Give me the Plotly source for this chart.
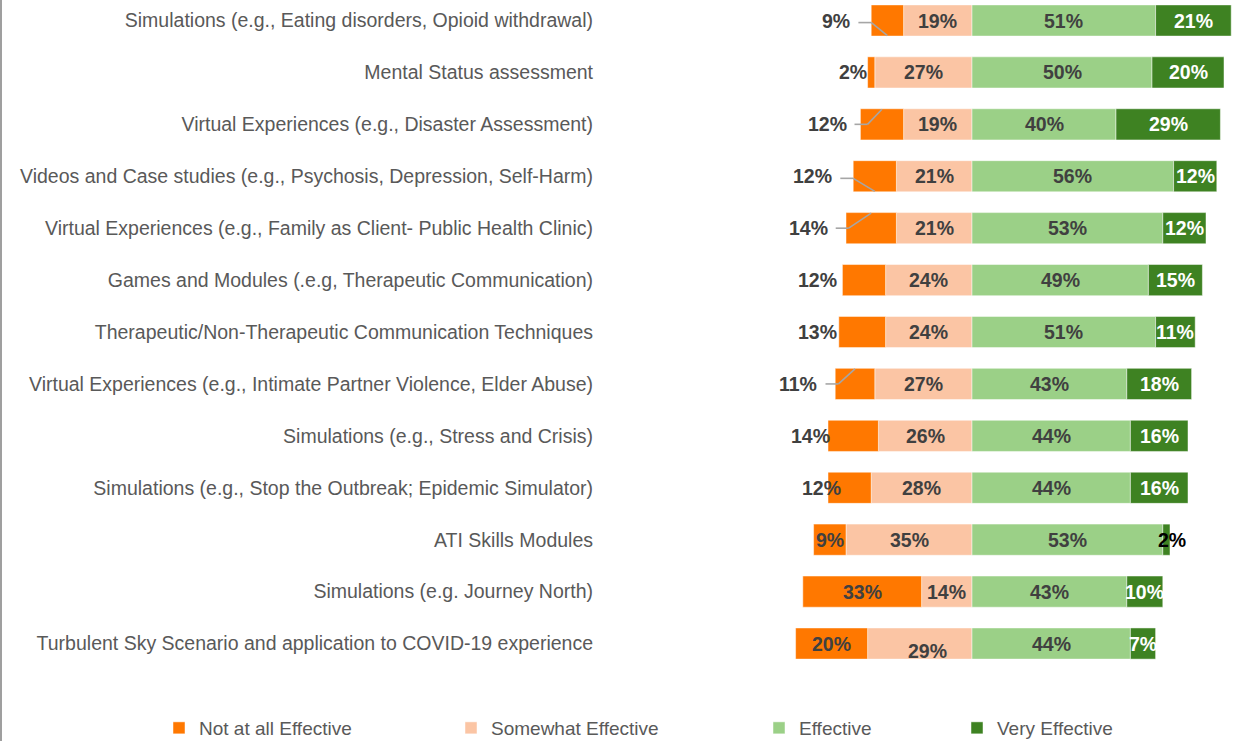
import plotly.graph_objects as go

# ---------------- data ----------------
categories = [
    "Simulations (e.g., Eating disorders, Opioid withdrawal)",
    "Mental Status assessment",
    "Virtual Experiences (e.g., Disaster Assessment)",
    "Videos and Case studies (e.g., Psychosis, Depression, Self-Harm)",
    "Virtual Experiences (e.g., Family as Client- Public Health Clinic)",
    "Games and Modules (.e.g, Therapeutic Communication)",
    "Therapeutic/Non-Therapeutic Communication Techniques",
    "Virtual Experiences (e.g., Intimate Partner Violence, Elder Abuse)",
    "Simulations (e.g., Stress and Crisis)",
    "Simulations (e.g., Stop the Outbreak; Epidemic Simulator)",
    "ATI Skills Modules",
    "Simulations (e.g. Journey North)",
    "Turbulent Sky Scenario and application to COVID-19 experience",
]
not_at_all = [9, 2, 12, 12, 14, 12, 13, 11, 14, 12, 9, 33, 20]
somewhat = [19, 27, 19, 21, 21, 24, 24, 27, 26, 28, 35, 14, 29]
effective = [51, 50, 40, 56, 53, 49, 51, 43, 44, 44, 53, 43, 44]
very = [21, 20, 29, 12, 12, 15, 11, 18, 16, 16, 2, 10, 7]

series_names = ["Not at all Effective", "Somewhat Effective", "Effective", "Very Effective"]

# ---------------- style / layout ----------------
colors = ["#FF7800", "#FBC5A4", "#9BD087", "#3E8222"]
text_colors = ["#404040", "#404040", "#404040", "#FFFFFF"]
FONT = "Liberation Sans, Arial, sans-serif"

W, H = 1237, 741
M_L, M_R, M_T, M_B = 600, 4, 0, 61
plot_w = W - M_L - M_R
plot_h = H - M_T - M_B
ZERO_PX = 972          # pixel column of the zero line
PX_PER = 3.6           # pixels per percentage point
x_min = -(ZERO_PX - M_L) / PX_PER
x_max = x_min + plot_w / PX_PER
ROW0_PX, ROW_STEP = 20.5, 51.92
y_top = -ROW0_PX / ROW_STEP
y_bot = (plot_h - ROW0_PX) / ROW_STEP

# label nudges (pixels) for crowded segments: (row, series) -> (dx, dy)
label_shift = {
    (0, 0): (-51, 0), (1, 0): (-18, 0), (2, 0): (-55, 0), (3, 0): (-62, 0),
    (4, 0): (-63, 0), (5, 0): (-47, 0), (6, 0): (-45, 0), (7, 0): (-57, 0),
    (8, 0): (-43, 0), (9, 0): (-28, 0), (10, 3): (6, 0), (12, 1): (8, 7),
}
label_color_override = {(10, 3): "#000000"}
# leader lines: row -> direction (+1 to lower bar edge, -1 to upper edge)
leaders = {0: 1, 2: -1, 3: 1, 4: -1, 7: -1}

fig = go.Figure()
legend_ids = ["legend", "legend2", "legend3", "legend4"]
signed = [
    (1, [-v for v in somewhat]),
    (0, [-v for v in not_at_all]),
    (2, effective),
    (3, very),
]
for k, vals in signed:
    fig.add_trace(go.Bar(
        y=categories, x=vals, orientation="h", name=series_names[k],
        marker=dict(color=colors[k], line=dict(color="rgba(255,255,255,0.6)", width=0.8)),
        legend=legend_ids[k], hoverinfo="name+x",
    ))

annotations = []
shapes = []
for i, cat in enumerate(categories):
    n, s, e, v = not_at_all[i], somewhat[i], effective[i], very[i]
    centers = [-s - n / 2, -s / 2, e / 2, e + v / 2]
    vals = [n, s, e, v]
    for k in range(4):
        dx, dy = label_shift.get((i, k), (0, 0))
        annotations.append(dict(
            x=centers[k], y=cat, xref="x", yref="y", text=f"{vals[k]}%",
            showarrow=False, xshift=dx, yshift=-dy,
            font=dict(family=FONT, size=19.5, color=label_color_override.get((i, k), text_colors[k]),
                      weight="bold"),
        ))
    if i in leaders:
        d = leaders[i]
        dx, _ = label_shift[(i, 0)]
        lab = centers[0] + dx / PX_PER
        hw = (14 if not_at_all[i] < 10 else 19.5)
        start = lab + (hw + 8) / PX_PER
        elbow = start + 13 / PX_PER
        end = centers[0]
        ymid = i + (0.04 if d > 0 else 0)
        line = dict(color="#A6A6A6", width=1.6)
        shapes.append(dict(type="line", xref="x", yref="y", x0=start, x1=elbow, y0=ymid, y1=ymid, line=line))
        shapes.append(dict(type="line", xref="x", yref="y", x0=elbow, x1=end, y0=ymid, y1=i + 0.29 * d, line=line))

# left border line of the chart frame
shapes.append(dict(type="line", xref="paper", yref="paper",
                   x0=(-M_L + 1) / plot_w, x1=(-M_L + 1) / plot_w,
                   y0=-M_B / plot_h, y1=1, line=dict(color="#7F7F7F", width=1.5)))

legend_px = [159, 451, 759, 957]
legend_common = dict(orientation="h", yanchor="middle", y=-48 / plot_h, xanchor="left",
                     font=dict(family=FONT, size=19, color="#595959"),
                     bgcolor="rgba(0,0,0,0)", itemwidth=30)
layout_legends = {}
for j, lid in enumerate(legend_ids):
    layout_legends[lid] = dict(legend_common, x=(legend_px[j] - M_L) / plot_w)

fig.update_layout(
    width=W, height=H,
    margin=dict(l=M_L, r=M_R, t=M_T, b=M_B, pad=0, autoexpand=False),
    barmode="relative", bargap=0.4,
    plot_bgcolor="white", paper_bgcolor="white",
    xaxis=dict(range=[x_min, x_max], visible=False, fixedrange=True),
    yaxis=dict(range=[y_bot, y_top], type="category", showgrid=False, zeroline=False,
               showline=False, ticks="", ticklabelstandoff=6, automargin=False,
               tickfont=dict(family=FONT, size=19.5, color="#595959")),
    annotations=annotations, shapes=shapes, showlegend=True,
    **layout_legends,
)

fig.write_html("out.html", config={"displayModeBar": False},
               post_script="document.body.style.margin='0';")
